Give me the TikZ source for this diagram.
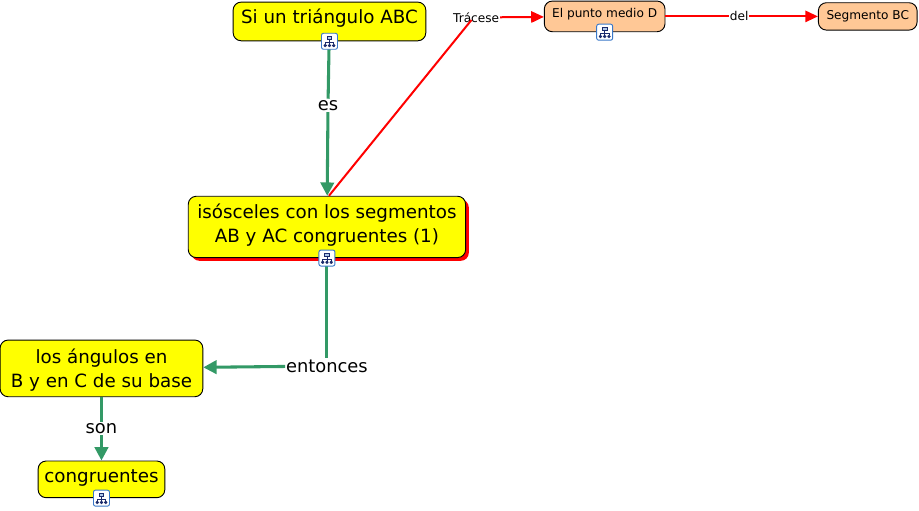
\documentclass[tikz,border=0pt]{standalone}
\usepackage{fontspec}
\setmainfont{DejaVu Sans}
\usetikzlibrary{arrows.meta, positioning, shadows}

\definecolor{boxyellow}{HTML}{FFFF00}
\definecolor{boxorange}{HTML}{FFC896}
\definecolor{linkgreen}{HTML}{339966}
\definecolor{iconblue}{HTML}{3A78C8}
\definecolor{iconnavy}{HTML}{1A2A6C}

\tikzset{
  concept/.style = {draw, rounded corners=6pt, line width=0.7pt, fill=boxyellow, align=center,
    font=\fontsize{13.7}{18}\selectfont, inner sep=0pt},
  subconcept/.style = {concept, fill=boxorange, font=\fontsize{9.1}{11}\selectfont},
  biglink/.style = {fill=white, inner xsep=0.5pt, inner ysep=1pt, font=\fontsize{13.4}{16}\selectfont},
  smalllink/.style = {fill=white, inner xsep=0.5pt, inner ysep=1pt, font=\fontsize{9.1}{11}\selectfont},
  greenedge/.style = {line width=2.3pt, linkgreen, -{Triangle[length=10pt,width=10pt]}},
  greenplain/.style = {line width=2.3pt, linkgreen},
  rededge/.style = {line width=1.5pt, red, -{Triangle[length=9.5pt,width=8.5pt]}},
  redplain/.style = {line width=1.5pt, red},
  mapicon/.style = {draw=iconblue, fill=white, rounded corners=1.5pt, line width=0.7pt, minimum size=12pt, inner sep=0pt,
    path picture={
      \draw [iconnavy, line width=0.6pt, sharp corners, fill=iconblue!40]
        ([shift={(-1.8pt,1.4pt)}]path picture bounding box.center) rectangle ++(3.6pt,2.4pt);
      \draw [iconnavy, line width=0.6pt, sharp corners]
        ([yshift=1.4pt]path picture bounding box.center) -- ++(0,-4pt)
        ([shift={(-3.2pt,-0.8pt)}]path picture bounding box.center) -- ++(6.4pt,0) -- ++(0,-1.6pt)
        ([shift={(-3.2pt,-0.8pt)}]path picture bounding box.center) -- ++(0,-1.6pt);
      \fill [iconnavy]
        ([shift={(-4.4pt,-4.4pt)}]path picture bounding box.center) rectangle ++(2.4pt,2.4pt)
        ([shift={(-1.2pt,-4.4pt)}]path picture bounding box.center) rectangle ++(2.4pt,2.4pt)
        ([shift={(2pt,-4.4pt)}]path picture bounding box.center) rectangle ++(2.4pt,2.4pt);
    }}
}

\begin{document}
\begin{tikzpicture} [on grid]
\useasboundingbox (0,0) rectangle (689.25pt,-382.5pt);

\node (tri) [concept, minimum width=144.5pt, minimum height=29pt, text depth=8pt] at (247.1pt,-16.1pt) {Si un triángulo ABC};
\node (es) [biglink, below left = 63pt and 1.1pt of tri] {es};
\node (iso) [concept, below left = 154.1pt and 1.9pt of tri, minimum width=208pt, minimum height=46pt, text depth=5pt,
  drop shadow={shadow xshift=2.4pt, shadow yshift=-2.4pt, fill=red, opacity=1}] {isósceles con los segmentos\ \\ AB y AC congruentes (1)};
\node (then) [biglink, below = 104.3pt of iso] {entonces};
\node (ang) [concept, below left = 106.1pt and 169.1pt of iso, minimum width=152pt, minimum height=42.5pt, text depth=1pt] {los ángulos en\ \\B y en C de su base\ };
\node (son) [biglink, below = 45pt of ang] {son};
\node (cong) [concept, below = 83.2pt of ang, minimum width=95pt, minimum height=27.5pt, text depth=5pt] {congruentes};

\node (trace) [smalllink, right = 110pt of tri, yshift=3pt] {Trácese};
\node (mid) [subconcept, right = 96.4pt of trace, yshift=0.8pt, minimum width=90.5pt, minimum height=23pt, text depth=5pt] {El punto medio D};
\node (del) [smalllink, right = 100.9pt of mid] {del};
\node (seg) [subconcept, right = 96.4pt of del, minimum width=74pt, minimum height=20.5pt, text depth=2pt] {Segmento BC};

\path
  (tri) edge [greenplain] (es)
  (es) edge [greenedge] (iso)
  (iso) edge [greenplain] (then)
  (then) edge [greenedge] (ang)
  (ang) edge [greenplain] (son)
  (son) edge [greenedge] (cong)
  ([shift={(-3.5pt,3pt)}]trace.south) edge [redplain] ([xshift=1.5pt]iso.north)
  (trace) edge [rededge] (mid)
  (mid) edge [redplain] (del)
  (del) edge [rededge] (seg);

\node (triicon) [mapicon] at (tri.south) {};
\node (isoicon) [mapicon] at (iso.south) {};
\node (midicon) [mapicon] at (mid.south) {};
\node (congicon) [mapicon] at (cong.south) {};
\end{tikzpicture}
\end{document}
